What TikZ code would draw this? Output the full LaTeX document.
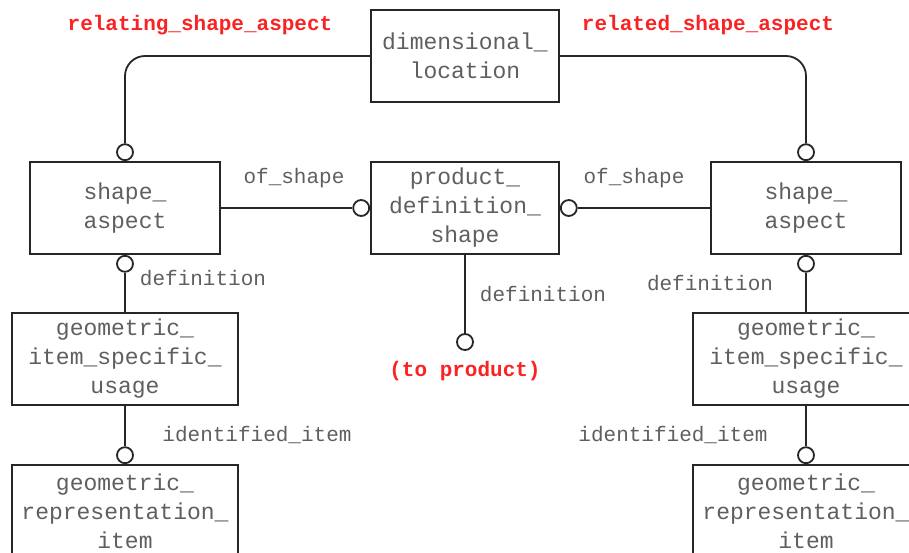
\documentclass[tikz,border=0pt]{standalone}
\usepackage{fontspec}
\setmainfont{Liberation Mono}
\usepackage{xcolor}
\usetikzlibrary{positioning}
\definecolor{rolered}{RGB}{250,35,35}
\definecolor{txtgray}{RGB}{95,95,95}

\begin{document}
\begin{tikzpicture}[x=1pt,y=-1pt,line width=1.8pt,draw=black!85]
  \tikzstyle{ent}=[draw, fill=white, align=center, inner sep=0pt, text=txtgray, font=\fontsize{23}{29}\selectfont]
  \tikzstyle{ring}=[draw, circle, fill=white, minimum size=16pt, inner sep=0pt]
  \tikzstyle{role}=[text=txtgray, font=\fontsize{21}{25}\selectfont]
  \tikzstyle{redrole}=[text=rolered, font=\bfseries\fontsize{21}{25}\selectfont]
  \clip (0,0) rectangle (909,552);
  % entities
  \node[ent, minimum width=188pt, minimum height=92pt] (dimloc) at (465,56) {dimensional\_\\location};
  \node[ent, minimum width=188pt, minimum height=92pt] (pds) at (465,208) {product\_\\definition\_\\shape};
  \node[ent, minimum width=190pt, minimum height=92pt] (saL) at (125,208) {shape\_\\aspect};
  \node[ent, minimum width=190pt, minimum height=92pt] (saR) at (806,208) {shape\_\\aspect};
  \node[ent, minimum width=226pt, minimum height=92pt] (gisuL) at (125,359) {geometric\_\\item\_specific\_\\usage};
  \node[ent, minimum width=226pt, minimum height=92pt] (gisuR) at (806,359) {geometric\_\\item\_specific\_\\usage};
  \node[ent, minimum width=226pt, minimum height=92pt] (griL) at (125,511) {geometric\_\\representation\_\\item};
  \node[ent, minimum width=226pt, minimum height=92pt] (griR) at (806,511) {geometric\_\\representation\_\\item};
  % rings
  \node[ring, above=0pt of saL] (rSaLtop) {};
  \node[ring, below=0pt of saL] (rSaLbot) {};
  \node[ring, above=0pt of saR] (rSaRtop) {};
  \node[ring, below=0pt of saR] (rSaRbot) {};
  \node[ring, left=0pt of pds] (rPdsL) {};
  \node[ring, right=0pt of pds] (rPdsR) {};
  \node[ring, above=0pt of griL] (rGriL) {};
  \node[ring, above=0pt of griR] (rGriR) {};
  \node[ring] (rProd) at (465,342) {};
  % connectors
  \draw[rounded corners=20pt] (dimloc.west) -| (rSaLtop.north);
  \draw[rounded corners=20pt] (dimloc.east) -| (rSaRtop.north);
  \draw (saL) -- (rPdsL);
  \draw (rPdsR) -- (saR);
  \draw (pds) -- (rProd);
  \draw (rSaLbot) -- (gisuL);
  \draw (gisuL) -- (rGriL);
  \draw (rSaRbot) -- (gisuR);
  \draw (gisuR) -- (rGriR);
  % roles
  \node[redrole] (relating) at (200,25) {relating\_shape\_aspect};
  \node[redrole] (related) at (708,25) {related\_shape\_aspect};
  \node[role] (ofShapeL) at (294,178) {of\_shape};
  \node[role] (ofShapeR) at (634,178) {of\_shape};
  \node[role] (defL) at (203,278) {definition};
  \node[role] (defP) at (543,294) {definition};
  \node[role] (defR) at (710,283) {definition};
  \node[role] (idL) at (257,435) {identified\_item};
  \node[role] (idR) at (673,435) {identified\_item};
  \node[redrole] (toProd) at (465,371) {(to product)};
\end{tikzpicture}
\end{document}
